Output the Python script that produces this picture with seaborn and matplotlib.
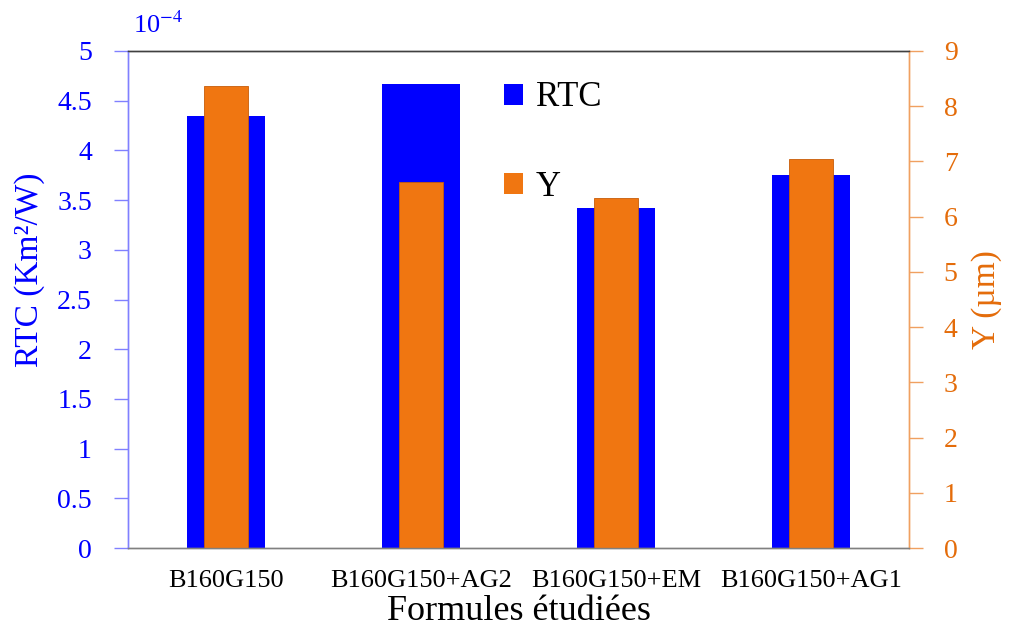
import matplotlib
matplotlib.use("Agg")
import matplotlib.pyplot as plt
import seaborn as sns
import pandas as pd
from matplotlib.patches import Patch

categories = ["B160G150", "B160G150+AG2", "B160G150+EM", "B160G150+AG1"]
rtc = [4.35, 4.67, 3.42, 3.75]   # x 1e-4 Km²/W
y_um = [8.37, 6.63, 6.34, 7.05]   # µm

BLUE = "#0000ff"
ORANGE = "#f07611"
ORANGE_TXT = "#e46c0a"

sns.set_style("white")
plt.rcParams["font.family"] = ["Liberation Serif", "DejaVu Serif"]
plt.rcParams["mathtext.fontset"] = "stix"
plt.rcParams["text.color"] = "black"
plt.rcParams["axes.labelcolor"] = "black"
plt.rcParams["xtick.color"] = "black"

df = pd.DataFrame({"cat": categories, "rtc": rtc, "y": y_um})

fig = plt.figure(figsize=(10.13, 6.31), dpi=100)
ax = fig.add_axes([128/1013, 1-548/631, (909-128)/1013, (548-51)/631])
ax2 = ax.twinx()

sns.barplot(data=df, x="cat", y="rtc", ax=ax, color=BLUE, width=0.4,
            saturation=1, linewidth=0)
sns.barplot(data=df, x="cat", y="y", ax=ax2, color=ORANGE, width=0.225,
            saturation=1, edgecolor="#c85c08", linewidth=0.6)

ax.set_xlim(-0.5, 3.5)
ax.set_ylim(0, 5)
ax2.set_ylim(0, 9)
ax.set_yticks([0, 0.5, 1, 1.5, 2, 2.5, 3, 3.5, 4, 4.5, 5])
ax.set_yticklabels(["0", "0.5", "1", "1.5", "2", "2.5", "3", "3.5", "4", "4.5", "5"])
ax2.set_yticks(range(0, 10))

ax.set_xticks(range(4))
ax.set_xticklabels(categories, fontsize=19, color="black")
ax.set_xticks([-0.5, 0.5, 1.5, 2.5, 3.5], minor=True)
ax.tick_params(axis="x", which="major", length=0, pad=16, labelcolor="black")
ax.tick_params(axis="x", which="minor", length=8, width=1, color="#606060", direction="out")
ax2.tick_params(axis="x", which="both", length=0)

ax.tick_params(axis="y", which="major", length=10, width=1, color="#8080ff",
               labelcolor=BLUE, labelsize=20, direction="out", pad=16)
ax2.tick_params(axis="y", which="major", length=10, width=1, color="#f0a060",
                labelcolor=ORANGE_TXT, labelsize=20, direction="out", pad=15)

for a in (ax, ax2):
    a.spines["left"].set_color("#8080ff")
    a.spines["right"].set_color("#f0a060")
    a.spines["top"].set_color("#404040")
    a.spines["bottom"].set_color("#808080")
    for s in a.spines.values():
        s.set_linewidth(1)
        s.set_visible(True)

ax.set_xlabel("Formules étudiées", fontsize=26, labelpad=2, color="black")
ax.set_ylabel("RTC (Km²/W)", fontsize=24, color=BLUE)
ax.yaxis.set_label_coords(-0.106, 0.56)
ax2.set_ylabel("Y (\u00b5m)", fontsize=24, color=ORANGE_TXT)
ax2.yaxis.set_label_coords(1.08, 0.5)

fig.text(133/1013, 1-25/631, r"10$^{-4}$", color=BLUE, fontsize=19, va="center", ha="left")

handles = [Patch(facecolor=BLUE, edgecolor="none", label="RTC"),
           Patch(facecolor=ORANGE, edgecolor="none", label="Y")]
leg = fig.legend(handles=handles, loc="upper left", bbox_to_anchor=(487/1013, 1-64/631),
                 frameon=False, fontsize=25, handlelength=0.55, handleheight=0.55,
                 handletextpad=0.35, labelspacing=1.63, borderpad=0, labelcolor="black")

fig.savefig("out.png", dpi=100)
